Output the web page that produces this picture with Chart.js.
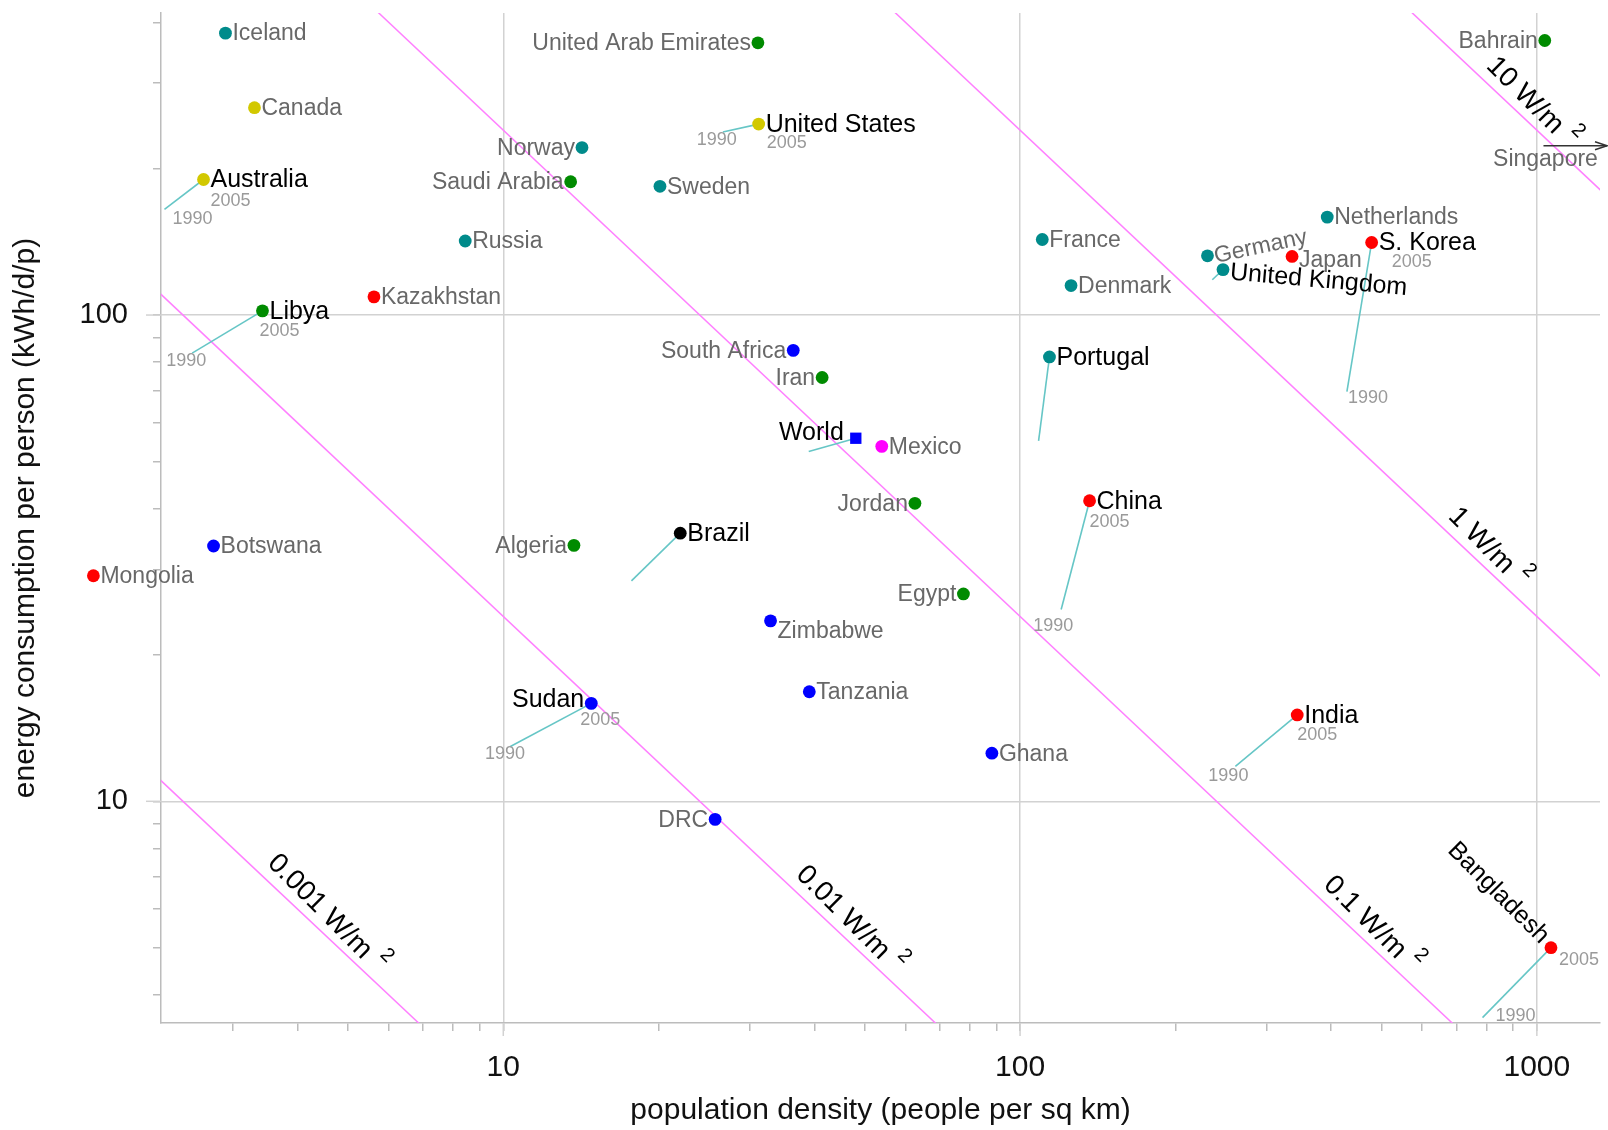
<!DOCTYPE html>
<html>
<head>
<meta charset="utf-8">
<title>Energy consumption vs population density</title>
<script src="https://cdn.jsdelivr.net/npm/chart.js@4/dist/chart.umd.min.js"></script>
<style>
  html, body { margin: 0; padding: 0; background: #ffffff; overflow: hidden; }
  #wrap { width: 1608px; height: 1130px; position: relative; }
</style>
</head>
<body>
<div id="wrap"><canvas id="chart" width="1608" height="1130"></canvas></div>
<script>
// ---- 2005 figures: population density (people / km²) and energy use (kWh/d/p) ----
const countries = [
  'Iceland', 'Canada', 'Australia', 'Libya', 'Kazakhstan', 'Russia',
  'United Arab Emirates', 'Norway', 'Saudi Arabia', 'Sweden', 'United States',
  'South Africa', 'Iran', 'World', 'Mexico', 'Jordan', 'Brazil', 'Algeria',
  'Egypt', 'Zimbabwe', 'Tanzania', 'Sudan', 'Ghana', 'DRC', 'Botswana',
  'Mongolia', 'France', 'Portugal', 'Denmark', 'China', 'India', 'Germany',
  'United Kingdom', 'Japan', 'Netherlands', 'S. Korea', 'Bahrain', 'Bangladesh'
];
const density = [
  2.90, 3.30, 2.63, 3.42, 5.62, 8.44,
  31.1, 14.2, 13.5, 20.1, 31.2,
  36.4, 41.4, 48.1, 54.0, 62.6, 22.0, 13.7,
  77.7, 32.9, 39.1, 14.8, 88.2, 25.7, 2.75,
  1.61, 110.4, 114, 125.5, 136.3, 343.8, 230.5,
  247, 336, 393, 479, 1036, 1065
];
const energy = [
  380, 267, 190, 102, 109, 142,
  363, 221, 188, 184, 247,
  84.6, 74.4, 55.8, 53.7, 41.0, 35.6, 33.6,
  26.7, 23.5, 16.8, 15.9, 12.56, 9.18, 33.5,
  29.1, 143, 82.0, 115, 41.5, 15.05, 132.4,
  124, 132, 159, 141, 367, 5.0
];
const region = [
  'europe', 'anglo', 'anglo', 'mideast', 'asia', 'europe',
  'mideast', 'europe', 'mideast', 'europe', 'anglo',
  'africa', 'mideast', 'world', 'latam', 'mideast', 'brazil', 'mideast',
  'mideast', 'africa', 'africa', 'africa', 'africa', 'africa', 'africa',
  'asia', 'europe', 'europe', 'europe', 'asia', 'asia', 'europe',
  'europe', 'asia', 'europe', 'asia', 'mideast', 'asia'
];

// ---- 1990 starting points of the tracked countries ----
const trackCountries = [
  'Australia', 'Libya', 'United States', 'World', 'Brazil', 'Sudan',
  'Portugal', 'China', 'India', 'S. Korea', 'United Kingdom', 'Bangladesh'
];
const trackDensity1990 = [2.21, 2.50, 26.6, 39.0, 17.7, 10.3, 108.6, 120.1, 261, 429, 235.5, 785];
const trackEnergy1990  = [165, 83.5, 238, 52.4, 28.4, 12.95, 55.1, 24.8, 11.8, 69.6, 118.2, 3.59];
// year tags are written at the ends of these tracks
const yearTagged = ['Australia', 'Libya', 'United States', 'Sudan', 'China', 'India', 'S. Korea', 'Bangladesh'];

// ---- lines of constant power per unit area ----
const powerLevels = [0.001, 0.01, 0.1, 1, 10];            // W/m²
const powerLabels = ['0.001 W/m', '0.01 W/m', '0.1 W/m', '1 W/m', '10 W/m'];
const powerLabelAt = [4.19, 43.1, 441, 741, 900];         // density where each label sits
const KWH_PER_DAY_PER_KM2 = 24000;                         // 1 W/m² in kWh per day per km²

// ---- off-chart country ----
const offChartName = 'Singapore';
const offChartEnergy = 223;
const offChartArrowFrom = 1030;

// ---- axes ----
const xMin = 2.176, xMax = 1325;
const yMin = 3.50, yMax = 418;
const xTickValues = [3, 4, 5, 6, 7, 8, 9, 10, 20, 30, 40, 50, 60, 70, 80, 90, 100,
                     200, 300, 400, 500, 600, 700, 800, 900, 1000];
const xTickLabels = ['10', '100', '1000'];
const yTickValues = [4, 5, 6, 7, 8, 9, 10, 20, 30, 40, 50, 60, 70, 80, 90, 100, 200, 300, 400];
const yTickLabels = ['10', '100'];

// ---- styling ----
const FONT = "'Liberation Sans', Arial, Helvetica, sans-serif";
const regionColour = {
  europe: '#008b8b', anglo: '#d2c800', mideast: '#008b00', asia: '#ff0000',
  africa: '#0000ff', world: '#0000ff', latam: '#ff00ff', brazil: '#000000'
};
const GRID = '#d2d2d2';
const AXIS = '#bcbcbc';
const TRACK = '#66c6c6';
const POWER_LINE = '#ff80ff';
const GREY_TEXT = '#686868';
const YEAR_TEXT = '#9a9a9a';

const labelOnLeft = new Set(['United Arab Emirates', 'Norway', 'Saudi Arabia', 'South Africa', 'Iran',
  'World', 'Jordan', 'Algeria', 'Egypt', 'Sudan', 'DRC', 'Bahrain']);
const labelNudge = {
  'World': { dy: -6 }, 'Zimbabwe': { dy: 10 }, 'Sudan': { dy: -4 }, 'Japan': { dy: 3 },
  'Germany': { rot: -12 }, 'United Kingdom': { rot: 5, dy: 2 }
};
const tag2005 = {
  'Australia': [7, 22], 'Libya': [-3, 20], 'United States': [8, 19], 'China': [0, 21],
  'India': [0, 20], 'S. Korea': [20, 20], 'Bangladesh': [8, 12], 'Sudan': [-11, 17]
};
const tag1990 = {
  'Australia': [28, 10], 'Libya': [-6, 8], 'United States': [-6, 8], 'China': [-8, 17],
  'India': [-7, 10], 'S. Korea': [21, 6], 'Sudan': [-5, 7], 'Bangladesh': [33, -2]
};

// ---- datasets ----
const pointData = countries.map((c, i) => ({ x: density[i], y: energy[i] }));
const datasets = [{
  label: 'countries',
  data: pointData,
  showLine: false,
  pointRadius: countries.map(c => c === 'World' ? 8 : 6.4),
  pointHoverRadius: countries.map(c => c === 'World' ? 8 : 6.4),
  pointStyle: countries.map(c => c === 'World' ? 'rect' : 'circle'),
  pointBackgroundColor: region.map(r => regionColour[r]),
  pointBorderWidth: 0,
  clip: false
}];
trackCountries.forEach((c, k) => {
  const i = countries.indexOf(c);
  datasets.push({
    label: c + ' 1990-2005',
    data: [{ x: trackDensity1990[k], y: trackEnergy1990[k] }, { x: density[i], y: energy[i] }],
    showLine: true, borderColor: TRACK, borderWidth: 1.6, pointRadius: 0, pointHoverRadius: 0
  });
});
powerLevels.forEach((p, k) => {
  const lo = 1, hi = 2000;
  datasets.push({
    label: powerLabels[k],
    data: [{ x: lo, y: p * KWH_PER_DAY_PER_KM2 / lo }, { x: hi, y: p * KWH_PER_DAY_PER_KM2 / hi }],
    showLine: true, borderColor: POWER_LINE, borderWidth: 1.5, pointRadius: 0, pointHoverRadius: 0
  });
});

const isLabelled = (list, v) => list.includes(String(v));

// keep the plot box where the axes put it: no extra room for edge labels
const noEdgePadding = s => { s.paddingTop = 0; s.paddingBottom = 0; s.paddingLeft = 0; s.paddingRight = 0; };

// longer tick marks at the labelled decades
const decadeTicks = {
  id: 'decadeTicks',
  afterDraw(chart) {
    const { ctx, chartArea: a, scales: { x, y } } = chart;
    ctx.save();
    ctx.strokeStyle = GRID;
    ctx.lineWidth = 1.5;
    xTickLabels.forEach(l => {
      const px = x.getPixelForValue(Number(l));
      ctx.beginPath(); ctx.moveTo(px, a.bottom); ctx.lineTo(px, a.bottom + 13); ctx.stroke();
    });
    yTickLabels.forEach(l => {
      const py = y.getPixelForValue(Number(l));
      ctx.beginPath(); ctx.moveTo(a.left, py); ctx.lineTo(a.left - 15, py); ctx.stroke();
    });
    ctx.restore();
  }
};

// country names, year tags, power-density captions and the off-chart arrow
const annotations = {
  id: 'annotations',
  afterDatasetsDraw(chart) {
    const { ctx, chartArea: a, scales: { x, y } } = chart;
    const highlighted = new Set(trackCountries);
    ctx.save();

    // markers that fall outside the plot box are still drawn
    const whole = { left: 0, top: 0, right: chart.width, bottom: chart.height };
    chart.getDatasetMeta(0).data.forEach(el => {
      if (el.x < a.left || el.x > a.right || el.y < a.top || el.y > a.bottom) el.draw(ctx, whole);
    });

    // country names
    countries.forEach((c, i) => {
      const px = x.getPixelForValue(density[i]);
      const py = y.getPixelForValue(energy[i]);
      const hi = highlighted.has(c);
      ctx.font = (hi ? '25px ' : '23px ') + FONT;
      ctx.fillStyle = hi ? '#000000' : GREY_TEXT;
      ctx.textBaseline = 'middle';
      if (c === 'Bangladesh') {
        ctx.save();
        ctx.translate(px - 6, py - 8);
        ctx.rotate(Math.PI / 4);
        ctx.textAlign = 'right';
        ctx.fillText(c, 0, 0);
        ctx.restore();
        return;
      }
      const n = labelNudge[c] || {};
      const left = labelOnLeft.has(c);
      const gap = c === 'World' ? 12 : 7;
      ctx.save();
      ctx.translate(px + (left ? -gap : gap), py + 1 + (n.dy || 0));
      if (n.rot) ctx.rotate(n.rot * Math.PI / 180);
      ctx.textAlign = left ? 'right' : 'left';
      ctx.fillText(c, 0, 0);
      ctx.restore();
    });

    // year tags
    ctx.font = '18px ' + FONT;
    ctx.fillStyle = YEAR_TEXT;
    ctx.textBaseline = 'middle';
    yearTagged.forEach(c => {
      const i = countries.indexOf(c);
      const k = trackCountries.indexOf(c);
      const p5 = [x.getPixelForValue(density[i]), y.getPixelForValue(energy[i])];
      const p0 = [x.getPixelForValue(trackDensity1990[k]), y.getPixelForValue(trackEnergy1990[k])];
      ctx.textAlign = 'left';
      ctx.fillText('2005', p5[0] + tag2005[c][0], p5[1] + tag2005[c][1]);
      ctx.textAlign = 'center';
      ctx.fillText('1990', p0[0] + tag1990[c][0], p0[1] + tag1990[c][1]);
    });

    // power-density captions, laid along their lines
    powerLevels.forEach((p, k) => {
      const d = powerLabelAt[k];
      const ax = x.getPixelForValue(d);
      const ay = y.getPixelForValue(p * KWH_PER_DAY_PER_KM2 / d);
      const bx = x.getPixelForValue(d * 2);
      const by = y.getPixelForValue(p * KWH_PER_DAY_PER_KM2 / (d * 2));
      const ang = Math.atan2(by - ay, bx - ax);
      const nx = Math.sin(ang), ny = -Math.cos(ang);
      const off = 17;
      ctx.save();
      ctx.translate(ax + nx * off, ay + ny * off);
      ctx.rotate(Math.PI / 4);
      ctx.font = '28px ' + FONT;
      ctx.fillStyle = '#000000';
      ctx.textBaseline = 'middle';
      ctx.textAlign = 'left';
      const w = ctx.measureText(powerLabels[k]).width;
      ctx.fillText(powerLabels[k], -w / 2, 0);
      ctx.font = '20px ' + FONT;
      ctx.fillText('2', w / 2 + 9, -13);
      ctx.restore();
    });

    // off-chart arrow
    const sx = x.getPixelForValue(offChartArrowFrom);
    const sy = y.getPixelForValue(offChartEnergy);
    const ex = chart.width - 1;
    ctx.strokeStyle = '#333333';
    ctx.lineWidth = 1.5;
    ctx.beginPath(); ctx.moveTo(sx, sy); ctx.lineTo(ex, sy); ctx.stroke();
    ctx.beginPath(); ctx.moveTo(ex - 12, sy - 4); ctx.lineTo(ex, sy); ctx.lineTo(ex - 12, sy + 4); ctx.stroke();
    ctx.font = '23px ' + FONT;
    ctx.fillStyle = GREY_TEXT;
    ctx.textAlign = 'center';
    ctx.textBaseline = 'middle';
    ctx.fillText(offChartName, sx + 2, sy + 14);

    ctx.restore();
  }
};

new Chart(document.getElementById('chart'), {
  type: 'scatter',
  data: { datasets },
  options: {
    responsive: false,
    animation: false,
    devicePixelRatio: 1,
    layout: { padding: { top: 13, right: 8, left: 0, bottom: 0 } },
    plugins: { legend: { display: false }, tooltip: { enabled: false } },
    events: [],
    scales: {
      x: {
        type: 'logarithmic',
        min: xMin, max: xMax,
        afterBuildTicks: s => { s.ticks = xTickValues.map(v => ({ value: v })); },
        afterFit: s => { s.height = 107; noEdgePadding(s); },
        ticks: {
          autoSkip: false, maxRotation: 0, minRotation: 0, padding: 19,
          color: '#111111', font: { family: FONT, size: 30 },
          callback: v => isLabelled(xTickLabels, v) ? String(v) : ''
        },
        grid: {
          color: c => (c.tick && isLabelled(xTickLabels, c.tick.value)) ? GRID : 'rgba(0,0,0,0)',
          lineWidth: 1.5, tickColor: AXIS, tickLength: 8, drawTicks: true
        },
        border: { color: AXIS, width: 1.5 },
        title: {
          display: true, text: 'population density (people per sq km)',
          color: '#111111', font: { family: FONT, size: 30 }, padding: { top: 0, bottom: 1 }
        }
      },
      y: {
        type: 'logarithmic',
        min: yMin, max: yMax,
        afterBuildTicks: s => { s.ticks = yTickValues.map(v => ({ value: v })); },
        afterFit: s => { s.width = 161; noEdgePadding(s); },
        ticks: {
          autoSkip: false, padding: 25,
          color: '#111111', font: { family: FONT, size: 29 },
          callback: v => isLabelled(yTickLabels, v) ? String(v) : ''
        },
        grid: {
          color: c => (c.tick && isLabelled(yTickLabels, c.tick.value)) ? GRID : 'rgba(0,0,0,0)',
          lineWidth: 1.5, tickColor: AXIS, tickLength: 8, drawTicks: true
        },
        border: { color: AXIS, width: 1.5 },
        title: {
          display: true, text: 'energy consumption per person (kWh/d/p)',
          color: '#111111', font: { family: FONT, size: 30 }, padding: { top: 8, bottom: 0 }
        }
      }
    }
  },
  plugins: [decadeTicks, annotations]
});
</script>
</body>
</html>
